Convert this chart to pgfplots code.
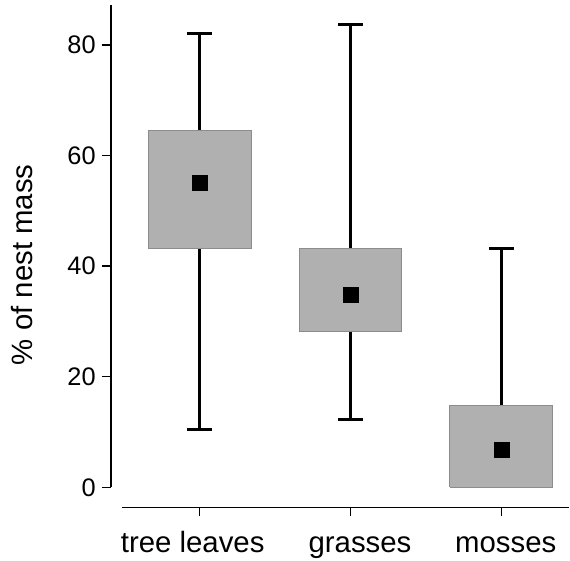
\documentclass[border=0pt]{standalone}
\usepackage{pgfplots}
\pgfplotsset{compat=1.18}
\usepackage{fontspec}
\setmainfont{Liberation Sans}
\definecolor{boxgray}{HTML}{B0B0B0}
\definecolor{boxedge}{HTML}{8C8C8C}
\begin{document}
\begin{tikzpicture}
\begin{axis}[
  name=ax,
  scale only axis,
  width=459bp, height=503bp,
  xmin=-0.589, xmax=2.451,
  ymin=-3.6, ymax=87.2,
  axis x line*=bottom, axis y line*=left,
  axis line style={draw=none},
  tick align=outside,
  major tick length=9bp,
  tick style={black, line width=1.4bp},
  xtick={0,1,2},
  xticklabels={tree leaves\hspace*{14bp}, \hspace*{19bp}grasses, \hspace*{9bp}mosses},
  ytick={0,20,40,60,80},
  /pgf/number format/assume math mode=true,
  yticklabel style={font=\fontsize{25.5}{30}\selectfont, inner sep=0pt, xshift=-6bp},
  xticklabel style={font=\fontsize{29.5}{34}\selectfont, anchor=base, inner sep=0pt, yshift=-36bp},
  ylabel={\% of nest mass},
  every axis y label/.style={at={(axis description cs:-0.170,0.483)}, rotate=90, anchor=base, inner sep=0pt, font=\fontsize{29.5}{34}\selectfont},
  clip=false,
]
% whiskers (mean with distances to whisker ends)
\addplot[black, only marks, mark=none,
  error bars/.cd, y dir=both, y explicit,
  error bar style={line width=2.7bp, black},
  error mark options={rotate=90, black, line width=2.7bp, mark size=12.5bp}]
  coordinates {
  (0,55.0) += (0,27.1) -= (0,44.5)
  (1,34.9) += (0,48.8) -= (0,22.6)
  (2,6.9) += (0,36.3) -= (0,0)
  };
% boxes (lower and upper limits)
\addplot[fill=boxgray, draw=boxedge, line width=1bp] coordinates {(-0.341,43.2) (0.341,43.2) (0.341,64.6) (-0.341,64.6) (-0.341,43.2)};
\addplot[fill=boxgray, draw=boxedge, line width=1bp] coordinates {(0.659,28.2) (1.341,28.2) (1.341,43.1) (0.659,43.1) (0.659,28.2)};
\addplot[fill=boxgray, draw=boxedge, line width=1bp] coordinates {(1.659,0) (2.341,0) (2.341,14.75) (1.659,14.75) (1.659,0)};
% means
\addplot[only marks, mark=square*, mark size=7.5bp, black] coordinates {(0,55.0) (1,34.9) (2,6.9)};
% axis lines
\draw[black, line width=1.4bp] (axis cs:-0.589,0) -- (axis cs:-0.589,87.2);
\draw[black, line width=1.4bp] (axis cs:-0.517,-3.6) -- (axis cs:2.451,-3.6);
\end{axis}
\path ([xshift=-111bp,yshift=-53bp]ax.south west) rectangle ([yshift=5bp]ax.north east);
\end{tikzpicture}
\end{document}
